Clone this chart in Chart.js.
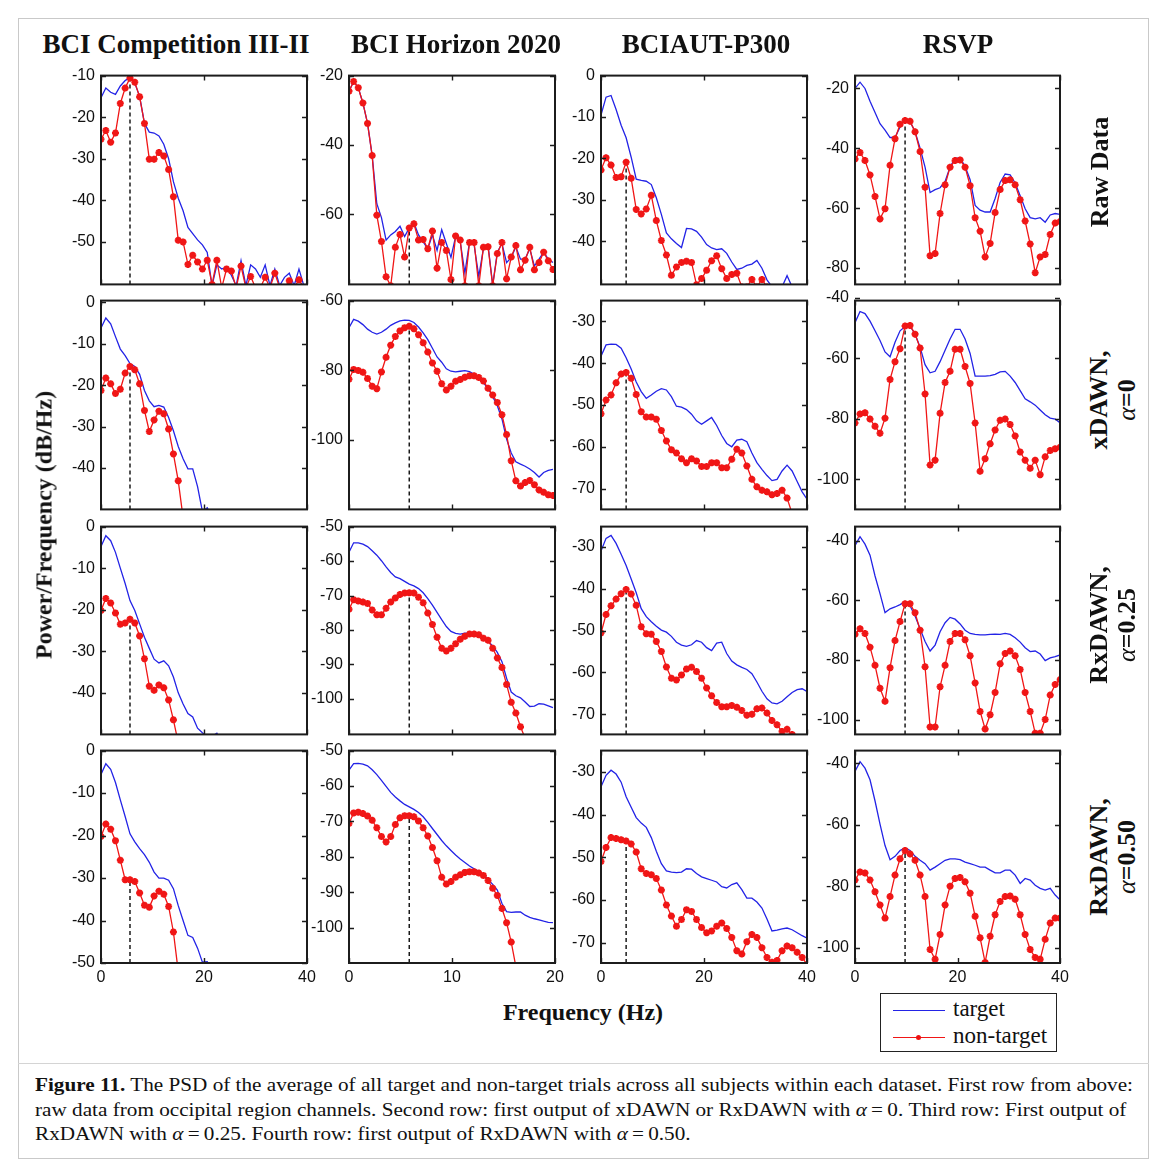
<!DOCTYPE html>
<html>
<head>
<meta charset="utf-8">
<script src="https://cdn.jsdelivr.net/npm/chart.js@4.4.1/dist/chart.umd.min.js"></script>
<style>
  html, body { margin: 0; padding: 0; background: #fff; }
  body { width: 1167px; height: 1166px; position: relative; overflow: hidden; }
  canvas { position: absolute; }
  .frame { position: absolute; left: 18px; top: 18px; width: 1131px; height: 1141px; border: 1px solid #c9c9c9; box-sizing: border-box; }
  .rule { position: absolute; left: 18px; top: 1063px; width: 1131px; height: 1px; background: #d4d4d4; }
  .title { position: absolute; top: 44px; transform: translate(-50%, -50%); font: bold 27px "Liberation Serif", serif; white-space: nowrap; color: #111; }
  .rowlab { position: absolute; transform: translate(-50%, -50%) rotate(-90deg); font: bold 26px "Liberation Serif", serif; white-space: nowrap; text-align: center; line-height: 28px; color: #111; }
  .rowlab i { font-weight: normal; }
  .ylab { position: absolute; left: 44px; top: 525px; transform: translate(-50%, -50%) rotate(-90deg); font: bold 24px "Liberation Serif", serif; white-space: nowrap; color: #111; }
  .xlab { position: absolute; left: 583px; top: 1012px; transform: translate(-50%, -50%); font: bold 24px "Liberation Serif", serif; white-space: nowrap; color: #111; }
  .legend { position: absolute; left: 880px; top: 993px; width: 177px; height: 59px; border: 1px solid #222; box-sizing: border-box; background: #fff; }
  .legend .sw { position: absolute; left: 12px; width: 52px; height: 0; border-top: 1.5px solid; }
  .legend .dot { position: absolute; left: 23px; top: -3.5px; width: 5px; height: 5px; background: #ee1111; border-radius: 50%; }
  .legend .tx { position: absolute; left: 72px; font: 23px "Liberation Serif", serif; color: #111; line-height: 24px; }
  .caption { position: absolute; left: 35px; font: 19px "Liberation Serif", serif; color: #111; white-space: nowrap; transform-origin: 0 50%; line-height: 22px; }
</style>
</head>
<body>
<div class="frame"></div>
<div class="rule"></div>

<script>
// ---------- frequency grids (Hz) ----------
const freqCompetition = [0, 0.94, 1.88, 2.81, 3.75, 4.69, 5.63, 6.56, 7.5, 8.44, 9.38, 10.31, 11.25, 12.19, 13.13, 14.06, 15, 15.94, 16.88, 17.81, 18.75, 19.69, 20.63, 21.56, 22.5, 23.44, 24.38, 25.31, 26.25, 27.19, 28.13, 29.06, 30, 30.94, 31.88, 32.81, 33.75, 34.69, 35.63, 36.56, 37.5, 38.44, 39.38];
const freqHorizon = [0, 0.45, 0.9, 1.35, 1.8, 2.25, 2.7, 3.15, 3.6, 4.05, 4.5, 4.95, 5.4, 5.85, 6.3, 6.75, 7.2, 7.65, 8.1, 8.55, 9, 9.45, 9.9, 10.35, 10.8, 11.25, 11.7, 12.15, 12.6, 13.05, 13.5, 13.95, 14.4, 14.85, 15.3, 15.75, 16.2, 16.65, 17.1, 17.55, 18, 18.45, 18.9, 19.35, 19.8];
const freqAUT = [0, 0.98, 1.95, 2.93, 3.91, 4.88, 5.86, 6.84, 7.81, 8.79, 9.77, 10.74, 11.72, 12.7, 13.67, 14.65, 15.63, 16.6, 17.58, 18.55, 19.53, 20.51, 21.48, 22.46, 23.44, 24.41, 25.39, 26.37, 27.34, 28.32, 29.3, 30.27, 31.25, 32.23, 33.2, 34.18, 35.16, 36.13, 37.11, 38.09, 39.06, 40.04];
const freqRSVP = [0, 0.98, 1.95, 2.93, 3.91, 4.88, 5.86, 6.84, 7.81, 8.79, 9.77, 10.74, 11.72, 12.7, 13.67, 14.65, 15.63, 16.6, 17.58, 18.55, 19.53, 20.51, 21.48, 22.46, 23.44, 24.41, 25.39, 26.37, 27.34, 28.32, 29.3, 30.27, 31.25, 32.23, 33.2, 34.18, 35.16, 36.13, 37.11, 38.09, 39.06, 40.04];

// ---------- BCI Competition III-II (dB/Hz) ----------
const compRawTarget = [-15.3, -13, -14, -14.5, -12.5, -11.2, -10.4, -11.8, -15, -21.5, -23.6, -23.8, -24.5, -26.5, -30, -35.5, -39.5, -42.5, -46.5, -48, -49.5, -50.7, -52.5, -60.5, -55.5, -56.5, -56, -58, -60.5, -54.5, -60.5, -55.5, -56.5, -58.5, -55.5, -60.5, -56.5, -60.5, -58.5, -57.5, -60.5, -56.5, -60.5];
const compRawNon = [-25.3, -23.2, -26, -23.8, -16.7, -13, -10.6, -11.6, -15.1, -21.5, -30.1, -30.1, -28.5, -29.3, -32.6, -39.1, -49.6, -50, -55.4, -53.2, -54.8, -56.5, -54.4, -60.2, -54.4, -61, -56.5, -57, -61, -55.8, -61, -58.3, -61, -61, -58.5, -61, -57.5, -61, -61, -59.3, -61, -59.1, -61];
const compX0Target = [-6.2, -3.8, -5.2, -8.3, -11.3, -12.9, -14.8, -15.5, -17.4, -21.3, -23.8, -25.2, -24.9, -25.3, -27.8, -31, -34.8, -37.8, -40.2, -40.2, -44.5, -50.5, -49.6, -52];
const compX0Non = [-21.3, -18.3, -19.7, -22, -21, -17.1, -15.5, -16.3, -19.7, -26.1, -31.2, -28.4, -26.3, -26.9, -30.6, -36.6, -43.1, -52];
const compX25Target = [-4.8, -2.2, -3.4, -6.2, -10, -13.7, -17.8, -20.2, -23.4, -26.6, -29.3, -31.9, -32.8, -32.3, -33.5, -36.2, -40, -42.7, -45, -45.8, -48.5, -49.6, -50.5, -50.5, -49.7, -52];
const compX25Non = [-20.2, -17.3, -18.4, -20.8, -23.5, -23.2, -22.3, -23.2, -26.3, -31.8, -38.4, -39.4, -38.1, -38.8, -41.7, -46.5, -52];
const compX50Target = [-5.6, -3.1, -4.4, -7.5, -11.6, -15.5, -19.6, -21.5, -23.1, -24.5, -26.3, -28.6, -30, -30, -30.5, -32.5, -36.5, -40, -43.5, -44, -46.5, -49.8, -49.7, -52];
const compX50Non = [-20.2, -17.3, -18.5, -21.2, -25.8, -30.4, -30.4, -30.8, -33.5, -36.4, -36.9, -34.2, -33.1, -33.8, -36.7, -42.7, -52];

// ---------- BCI Horizon 2020 ----------
const horRawTarget = [-24.5, -21.7, -23.5, -27.9, -33.8, -43.1, -57, -61, -67.5, -66, -65, -63.5, -66.5, -64, -62.5, -66, -68, -70, -66, -70.5, -64.5, -68.5, -72.5, -66.5, -68, -77, -68, -69, -78, -70, -69, -80.5, -71, -68.5, -74, -72.5, -69.5, -73, -73, -70, -75, -73, -71, -73, -74];
const horRawNon = [-24.5, -21.7, -23.5, -27.9, -33.8, -43.1, -60.3, -67.9, -78.1, -80.7, -69.6, -65.9, -72.4, -64, -62.8, -67.5, -67.3, -70, -64.9, -75.6, -68.2, -70.5, -78.9, -66.3, -67.5, -80.7, -68.2, -68.2, -80.7, -69.6, -69.4, -80.7, -71.4, -68.2, -78.7, -72.4, -69.1, -76.1, -73.3, -69.6, -76.1, -74, -71, -73.5, -76];
const horX0Target = [-67.8, -65.4, -65.9, -66.9, -68.2, -69.1, -69.6, -69.1, -68.2, -67.1, -66.4, -65.8, -65.6, -65.7, -66.3, -67.6, -69.3, -71.2, -73.7, -76.2, -77.7, -79.6, -80.3, -80.5, -80.3, -80.1, -80.4, -81.2, -82.3, -83.6, -85.2, -87.6, -90.2, -94, -99.8, -103.8, -106.3, -107, -107.6, -108.4, -109.4, -110.7, -109.4, -108.8, -108.5];
const horX0Non = [-82.6, -79.8, -80.1, -80.6, -82.4, -84.6, -85.3, -80.5, -76.3, -72.8, -70.3, -68.7, -67.8, -67.4, -68.1, -69.8, -72.1, -74.8, -77.9, -80.3, -83.9, -85.7, -84.6, -83.2, -82.7, -82, -81.6, -81.6, -82.1, -83.1, -85.2, -87.1, -89.3, -92.8, -98.5, -106, -111.8, -113.3, -112.3, -111.7, -112.9, -114.4, -115.1, -115.8, -116];
const horX25Target = [-57.4, -54.7, -54.7, -55.1, -55.8, -57, -58.3, -59.9, -61.7, -63.3, -64.6, -65.1, -65.9, -66.7, -67.2, -68, -69.2, -70.9, -72.8, -74.9, -77, -79, -80.4, -81, -81.2, -80.9, -81, -81.2, -81.5, -82.2, -83.3, -84.6, -86.5, -89.2, -94, -98, -99.1, -99.7, -100.9, -102.2, -102.1, -101.4, -101.5, -102, -102.5];
const horX25Non = [-74, -71.2, -71.6, -71.9, -72.3, -74.2, -75.6, -75.6, -73.7, -71.9, -70.7, -69.7, -69.3, -69.2, -69.3, -70.5, -72.1, -75.1, -78.4, -82.1, -85.3, -86.1, -85.3, -84, -82.7, -81.8, -81.2, -81.2, -81.4, -82.4, -83, -85.3, -88.1, -90.9, -95.8, -101, -104.1, -108.1, -111.4];
const horX50Target = [-55.5, -53.7, -53.6, -53.8, -54.3, -55.4, -56.8, -58.4, -60.1, -61.8, -63.1, -64.2, -65.2, -65.9, -66.6, -67.5, -68.7, -70.3, -72, -73.7, -75.4, -76.9, -78.2, -79.5, -80.6, -81.6, -82.6, -83.4, -84.1, -85, -86.4, -87.8, -89.4, -93.2, -95.5, -95.7, -95.6, -95.6, -96.5, -97.1, -97.5, -97.8, -98.2, -98.5, -98.6];
const horX50Non = [-70.6, -67.6, -67.4, -67.8, -68.5, -69.7, -71.8, -74.3, -75.8, -74.3, -70.9, -69, -68.4, -68.4, -68.7, -69.9, -71.8, -74.1, -77.4, -81.1, -85.8, -87.7, -87, -85.8, -85.1, -84.4, -84.2, -84.2, -84.6, -85.3, -86.7, -88.9, -90.9, -94.6, -98.6, -104.1, -111];

// ---------- BCIAUT-P300 ----------
const autRawTarget = [-9.5, -5.2, -4.8, -8.2, -12, -15, -19.7, -25, -25.3, -25.5, -26.3, -29.5, -33.5, -38, -39.4, -40.5, -41.5, -36.9, -37, -37.6, -39, -40.8, -41.6, -42, -41.8, -42.9, -45, -46.8, -46.5, -45.8, -45.5, -44.6, -46.5, -49.3, -51, -51, -51, -48.3, -51];
const autRawNon = [-22.8, -19.8, -21.6, -24.6, -24.4, -20.9, -24.8, -32.3, -33.4, -32.2, -28.9, -35, -39.8, -43.3, -48.2, -46.2, -45.1, -44.8, -45.1, -50.5, -49, -47, -44.7, -43.5, -46.6, -49, -48, -47.7, -51, -51, -49.2, -51, -49.2, -51];
const autX0Target = [-38.3, -35.6, -35.4, -35.5, -36.4, -38.7, -41.4, -44.5, -46.8, -48.4, -47.6, -46.7, -46.1, -46.4, -48, -50.3, -50.5, -51.1, -52.2, -53.8, -54.6, -53.8, -53, -54.9, -57.3, -59.2, -60, -58.4, -58.2, -58.8, -61.5, -63.8, -65.4, -66.9, -68.1, -67.8, -65.8, -64.4, -65.8, -68.3, -70.8, -72.6];
const autX0Non = [-52.1, -48.8, -47.6, -44.7, -42.6, -42.2, -43.6, -47.5, -51.6, -52.9, -52.9, -53.4, -56.1, -58.6, -60.7, -61.5, -62.9, -63.8, -62.9, -63.4, -64.7, -64.7, -63.8, -63.8, -65, -65, -63, -60.6, -61.5, -64.6, -67.8, -69.6, -70.4, -70.8, -71.5, -71.2, -70.4, -72.3, -76];
const autX25Target = [-31, -28, -27.3, -29.2, -31.8, -34.5, -37.7, -41, -44.8, -46.7, -47.9, -49, -49.9, -50.4, -51.4, -52.8, -53.5, -53.8, -53.4, -52.4, -52.8, -54.1, -54.8, -53, -52.8, -55.5, -57.3, -58.2, -58.8, -59.3, -60.3, -62.3, -64.5, -66.3, -67.3, -67.5, -66.9, -65.8, -64.8, -64.1, -63.9, -64.6];
const autX25Non = [-50.6, -46.2, -44.1, -42.5, -41.2, -40.2, -41.3, -44, -49.1, -50.8, -50.9, -52.6, -55, -58.7, -61.4, -61.8, -60.6, -59.2, -58.8, -59.8, -61.4, -63.7, -65.6, -67.2, -68.2, -68.2, -67.9, -68.3, -69.1, -70.2, -70, -68.7, -68.5, -69.7, -71.5, -72.5, -74.1, -73.6, -74.8, -76];
const autX50Target = [-33.5, -30.8, -29.6, -30.5, -32.4, -35.8, -38.3, -40.7, -42, -43, -45.4, -48.6, -51.5, -53.2, -53.5, -53.6, -53.5, -52.7, -52.8, -53.8, -54.6, -55, -55.4, -55.8, -56.9, -57.2, -56.4, -56, -57.6, -59.6, -59.6, -60.5, -61.9, -64.5, -67.3, -67.1, -66.8, -66.6, -67, -67.7, -68.4, -69];
const autX50Non = [-51, -47.7, -45.4, -45.6, -45.9, -46.2, -46.9, -48.8, -52.7, -53.8, -54.1, -55, -57.7, -61.2, -63.8, -66.2, -64.6, -62.3, -62.7, -64.6, -66.5, -67.7, -67.3, -66.2, -65.4, -66.7, -68.8, -71.9, -72.7, -69.8, -68.1, -68.8, -71.2, -73.5, -74.6, -74.2, -71.9, -70.8, -71.2, -72.3, -73.5, -75.2];

// ---------- RSVP ----------
const rsvpRawTarget = [-20, -17.9, -20, -24.3, -28, -31.8, -33.9, -36.4, -36.4, -32.9, -30.2, -31, -34.5, -40, -46.3, -54.8, -53.8, -53.2, -51.1, -46.3, -43.3, -43.3, -46, -50.5, -59.1, -60.7, -61.3, -61.3, -56.8, -51.4, -48.6, -48.9, -51.6, -55.9, -60.2, -63.2, -63.6, -63.2, -64.7, -62.3, -61.8, -62.1];
const rsvpRawNon = [-43.6, -41.4, -44.1, -48.9, -56.1, -63.6, -60.2, -45.7, -36.8, -32, -30.7, -31, -34.5, -41.1, -53, -75.9, -75.2, -61.8, -52.2, -46.3, -44.1, -43.9, -46.3, -52.5, -63.2, -67.7, -76.3, -71.8, -61.5, -53.8, -50.8, -50.5, -52.2, -57.2, -64.3, -72, -81.6, -76.3, -75.5, -68.8, -65, -64.5];
const rsvpX0Target = [-48.2, -44.5, -45.2, -47.7, -50.9, -54.1, -57.9, -59.5, -54.7, -50.9, -49.5, -49.3, -52, -56.3, -62.1, -64.8, -64.3, -61.1, -57.3, -53.6, -50.4, -50.4, -53.6, -58.4, -65.9, -65.9, -65.9, -65.7, -65.3, -64.5, -64.3, -65.9, -68, -70.7, -73.4, -74.4, -75.5, -77.1, -78.7, -79.8, -80.1, -81.4];
const rsvpX0Non = [-81.4, -78.4, -78, -80.1, -82.5, -84.8, -79.8, -67, -61.1, -56.8, -49.3, -49.1, -52, -56.6, -71.8, -95.3, -93.7, -78.2, -68, -64.3, -57, -57, -62.7, -68.3, -81.4, -97.4, -93.2, -88.3, -83.7, -80.5, -80.1, -81.9, -85.7, -91, -93.7, -96.4, -93.7, -98.5, -92.6, -90.5, -89.9, -89.4];
const rsvpX25Target = [-41.6, -38.6, -41.1, -44.8, -51.8, -57.7, -64.1, -62.8, -62.2, -61.4, -60.4, -61.8, -65.2, -69.5, -73.8, -77, -75, -70.5, -67.5, -65.7, -66.3, -67.9, -70, -71.1, -71.4, -71.6, -71.6, -71.4, -71.3, -71.4, -71.1, -71.4, -72.5, -74, -75.9, -77.2, -77, -78, -80.2, -79.3, -78.9, -78.3];
const rsvpX25Non = [-71.4, -69.5, -71.1, -75.7, -81.8, -89.5, -93.9, -82.6, -73.5, -67.1, -61.1, -61.1, -64.1, -70, -82.3, -102.5, -102.5, -89, -81.8, -73.8, -71.1, -71.1, -73.2, -78.6, -87.7, -97.3, -103.2, -98.4, -90.9, -81.3, -77.8, -77, -78.6, -83.2, -90.9, -97.3, -104.6, -104.6, -100, -91.8, -88.2, -86.6];
const rsvpX50Target = [-42.7, -39.5, -41.6, -45.4, -52.3, -59.8, -66.8, -71.4, -70.3, -68.4, -67.5, -68.4, -70.3, -71.6, -72.7, -74.8, -73.8, -72.7, -71.6, -71.1, -71.1, -71.4, -72.2, -72.7, -73.2, -73.8, -73.8, -74.8, -75.7, -75.7, -74.8, -74.8, -76.4, -79.1, -77.5, -78, -79.7, -80.7, -81.3, -80.7, -82.9, -84.5];
const rsvpX50Non = [-78, -75.4, -75.7, -78, -81.8, -86.1, -90.4, -83.4, -76.4, -71.1, -68.4, -69.5, -71.6, -76.4, -83.4, -100.6, -103.8, -95.7, -86.1, -80, -77.5, -77.2, -78.6, -82.3, -89.8, -96.8, -104.8, -96.3, -89.3, -85, -83.4, -83.2, -84.3, -89.3, -95.7, -100.6, -103.2, -103.8, -97.3, -92, -90.4, -90.4];

// ---------- axes: limits and tick labels ----------
const xTicks40 = [0, 20, 40];
const xTicks20 = [0, 10, 20];
const yTicksComp = [[-10, -20, -30, -40, -50], [0, -10, -20, -30, -40], [0, -10, -20, -30, -40], [0, -10, -20, -30, -40, -50]];
const yTicksHor = [[-20, -40, -60], [-60, -80, -100], [-50, -60, -70, -80, -90, -100], [-50, -60, -70, -80, -90, -100]];
const yTicksAut = [[0, -10, -20, -30, -40], [-30, -40, -50, -60, -70], [-30, -40, -50, -60, -70], [-30, -40, -50, -60, -70]];
const yTicksRsvp = [[-20, -40, -60, -80], [-40, -60, -80, -100], [-40, -60, -80, -100], [-40, -60, -80, -100]];
const yLimComp = [[-60.2, -10], [-50, 0.4], [-50, 0], [-50, 0]];
const yLimHor = [[-80.3, -20], [-120, -60], [-110.3, -50], [-110, -50]];
const yLimAut = [[-50.4, 0], [-75, -25], [-74.8, -25.2], [-74.8, -25]];
const yLimRsvp = [[-85.5, -15.7], [-110, -40.9], [-105, -35.2], [-105, -35.9]];
// index of the non-target peak frequency marked by the dashed line, per dataset
const peakIndex = [6, 13, 5, 10];

const columnTitles = ['BCI Competition III-II', 'BCI Horizon 2020', 'BCIAUT-P300', 'RSVP'];
const rowTitles = ['Raw Data', 'xDAWN,<br><i>\u03b1</i>=0', 'RxDAWN,<br><i>\u03b1</i>=0.25', 'RxDAWN,<br><i>\u03b1</i>=0.50'];

// ---------- panel table ----------
const columns = [
  { freq: freqCompetition, xt: xTicks40, yt: yTicksComp, lim: yLimComp,
    series: [[compRawTarget, compRawNon], [compX0Target, compX0Non], [compX25Target, compX25Non], [compX50Target, compX50Non]] },
  { freq: freqHorizon, xt: xTicks20, yt: yTicksHor, lim: yLimHor,
    series: [[horRawTarget, horRawNon], [horX0Target, horX0Non], [horX25Target, horX25Non], [horX50Target, horX50Non]] },
  { freq: freqAUT, xt: xTicks40, yt: yTicksAut, lim: yLimAut,
    series: [[autRawTarget, autRawNon], [autX0Target, autX0Non], [autX25Target, autX25Non], [autX50Target, autX50Non]] },
  { freq: freqRSVP, xt: xTicks40, yt: yTicksRsvp, lim: yLimRsvp,
    series: [[rsvpRawTarget, rsvpRawNon], [rsvpX0Target, rsvpX0Non], [rsvpX25Target, rsvpX25Non], [rsvpX50Target, rsvpX50Non]] }
];

// ---------- layout (pixels) ----------
const colX = [101, 349, 601, 855];
const colW = [206, 206, 206, 205];
const rowY = [72, 297, 523, 747];
const rowH = [216, 216, 215, 216];
const AX_W = 52, PAD_T = 12, PAD_R = 14, PAD_B = 12, AX_H = 32;

const BLUE = '#2323e6';
const RED = '#f01616';
const TICK_FONT = { family: '"Liberation Sans", Arial, sans-serif', size: 16 };

// box around each plot with MATLAB-style inward ticks
const boxPlugin = {
  id: 'box',
  afterDatasetsDraw(chart) {
    const { ctx, chartArea: a, scales: { x, y } } = chart;
    const L = 5;
    ctx.save();
    ctx.strokeStyle = '#1c1c1c';
    ctx.lineWidth = 1.4;
    ctx.beginPath();
    x.ticks.forEach(t => {
      const px = Math.round(x.getPixelForValue(t.value)) + 0.5;
      ctx.moveTo(px, a.bottom); ctx.lineTo(px, a.bottom - L);
      ctx.moveTo(px, a.top); ctx.lineTo(px, a.top + L);
    });
    y.ticks.forEach(t => {
      const py = Math.round(y.getPixelForValue(t.value)) + 0.5;
      ctx.moveTo(a.left, py); ctx.lineTo(a.left + L, py);
      ctx.moveTo(a.right, py); ctx.lineTo(a.right - L, py);
    });
    ctx.stroke();
    ctx.lineWidth = 2;
    ctx.strokeRect(a.left, a.top, a.right - a.left, a.bottom - a.top);
    ctx.restore();
  }
};

columns.forEach((col, c) => {
  col.series.forEach((pair, r) => {
    const [target, non] = pair;
    const bottomRow = r === 3;
    const cv = document.createElement('canvas');
    const w = AX_W + colW[c] + PAD_R;
    const h = PAD_T + rowH[r] + (bottomRow ? AX_H : PAD_B);
    cv.width = w; cv.height = h;
    cv.style.width = w + 'px'; cv.style.height = h + 'px';
    cv.style.left = (colX[c] - AX_W) + 'px';
    cv.style.top = (rowY[r] - PAD_T) + 'px';
    document.body.appendChild(cv);

    const pts = ys => ys.map((v, i) => ({ x: col.freq[i], y: v }));
    const k = peakIndex[c];
    const [yMin, yMax] = col.lim[r];
    const xt = col.xt, yt = col.yt[r];

    new Chart(cv, {
      type: 'line',
      data: {
        datasets: [
          { label: 'non-target', data: pts(non), borderColor: RED, backgroundColor: RED,
            borderWidth: 1.3, pointStyle: 'star', pointRadius: 3.5, pointBorderWidth: 2.2,
            pointBorderColor: RED, pointBackgroundColor: RED, clip: 0 },
          { label: 'target', data: pts(target), borderColor: BLUE, borderWidth: 1.3,
            pointRadius: 0, clip: 0 },
          { label: 'peak', data: [{ x: col.freq[k], y: yMin }, { x: col.freq[k], y: non[k] }],
            borderColor: '#1a1a1a', borderWidth: 1.5, borderDash: [4, 3], pointRadius: 0, clip: 0 }
        ]
      },
      options: {
        responsive: false,
        animation: false,
        devicePixelRatio: 1,
        events: [],
        layout: { autoPadding: false, padding: { top: PAD_T, right: PAD_R, bottom: bottomRow ? 0 : PAD_B, left: 0 } },
        plugins: { legend: { display: false }, tooltip: { enabled: false } },
        elements: { line: { tension: 0 } },
        scales: {
          x: {
            type: 'linear', min: xt[0], max: xt[xt.length - 1],
            grid: { display: false, drawTicks: false, tickLength: 0 }, border: { display: false },
            afterBuildTicks: s => { s.ticks = xt.map(v => ({ value: v })); },
            afterFit: s => { s.height = bottomRow ? AX_H : 0; },
            ticks: { display: bottomRow, font: TICK_FONT, color: '#111', padding: 5, maxRotation: 0, autoSkip: false }
          },
          y: {
            type: 'linear', min: yMin, max: yMax,
            grid: { display: false, drawTicks: false, tickLength: 0 }, border: { display: false },
            afterBuildTicks: s => { s.ticks = yt.map(v => ({ value: v })); },
            afterFit: s => { s.width = AX_W; },
            ticks: { font: TICK_FONT, color: '#111', padding: 6, autoSkip: false }
          }
        }
      },
      plugins: [boxPlugin]
    });
  });
});

// ---------- figure text ----------
function addDiv(cls, html, style) {
  const d = document.createElement('div');
  d.className = cls; d.innerHTML = html;
  Object.assign(d.style, style || {});
  document.body.appendChild(d);
  return d;
}
const titleX = [176, 456, 706, 958];
columnTitles.forEach((t, i) => addDiv('title', t, { left: titleX[i] + 'px' }));
const rowLabelPos = [[1100, 172], [1113, 400], [1113, 625], [1113, 857]];
rowTitles.forEach((t, i) => addDiv('rowlab', t, { left: rowLabelPos[i][0] + 'px', top: rowLabelPos[i][1] + 'px' }));
addDiv('ylab', 'Power/Frequency (dB/Hz)');
addDiv('xlab', 'Frequency (Hz)');

const legend = addDiv('legend', '');
legend.innerHTML =
  '<div class="sw" style="top:16px;border-color:' + BLUE + '"></div>' +
  '<div class="tx" style="top:3px">target</div>' +
  '<div class="sw" style="top:43px;border-color:' + RED + '"><div class="dot"></div></div>' +
  '<div class="tx" style="top:30px">non-target</div>';

const captionLines = [
  '<b>Figure 11.</b> The PSD of the average of all target and non-target trials across all subjects within each dataset. First row from above:',
  'raw data from occipital region channels. Second row: first output of xDAWN or RxDAWN with <i>\u03b1</i>&#8201;=&#8201;0. Third row: First output of',
  'RxDAWN with <i>\u03b1</i>&#8201;=&#8201;0.25. Fourth row: first output of RxDAWN with <i>\u03b1</i>&#8201;=&#8201;0.50.'
];
const capY = [1074, 1099, 1123];
const capDivs = captionLines.map((t, i) => addDiv('caption', t, { top: capY[i] + 'px' }));
const capScale = 1098 / capDivs[0].getBoundingClientRect().width;
capDivs.forEach(d => { d.style.transform = 'scaleX(' + capScale.toFixed(4) + ')'; });
</script>
</body>
</html>
